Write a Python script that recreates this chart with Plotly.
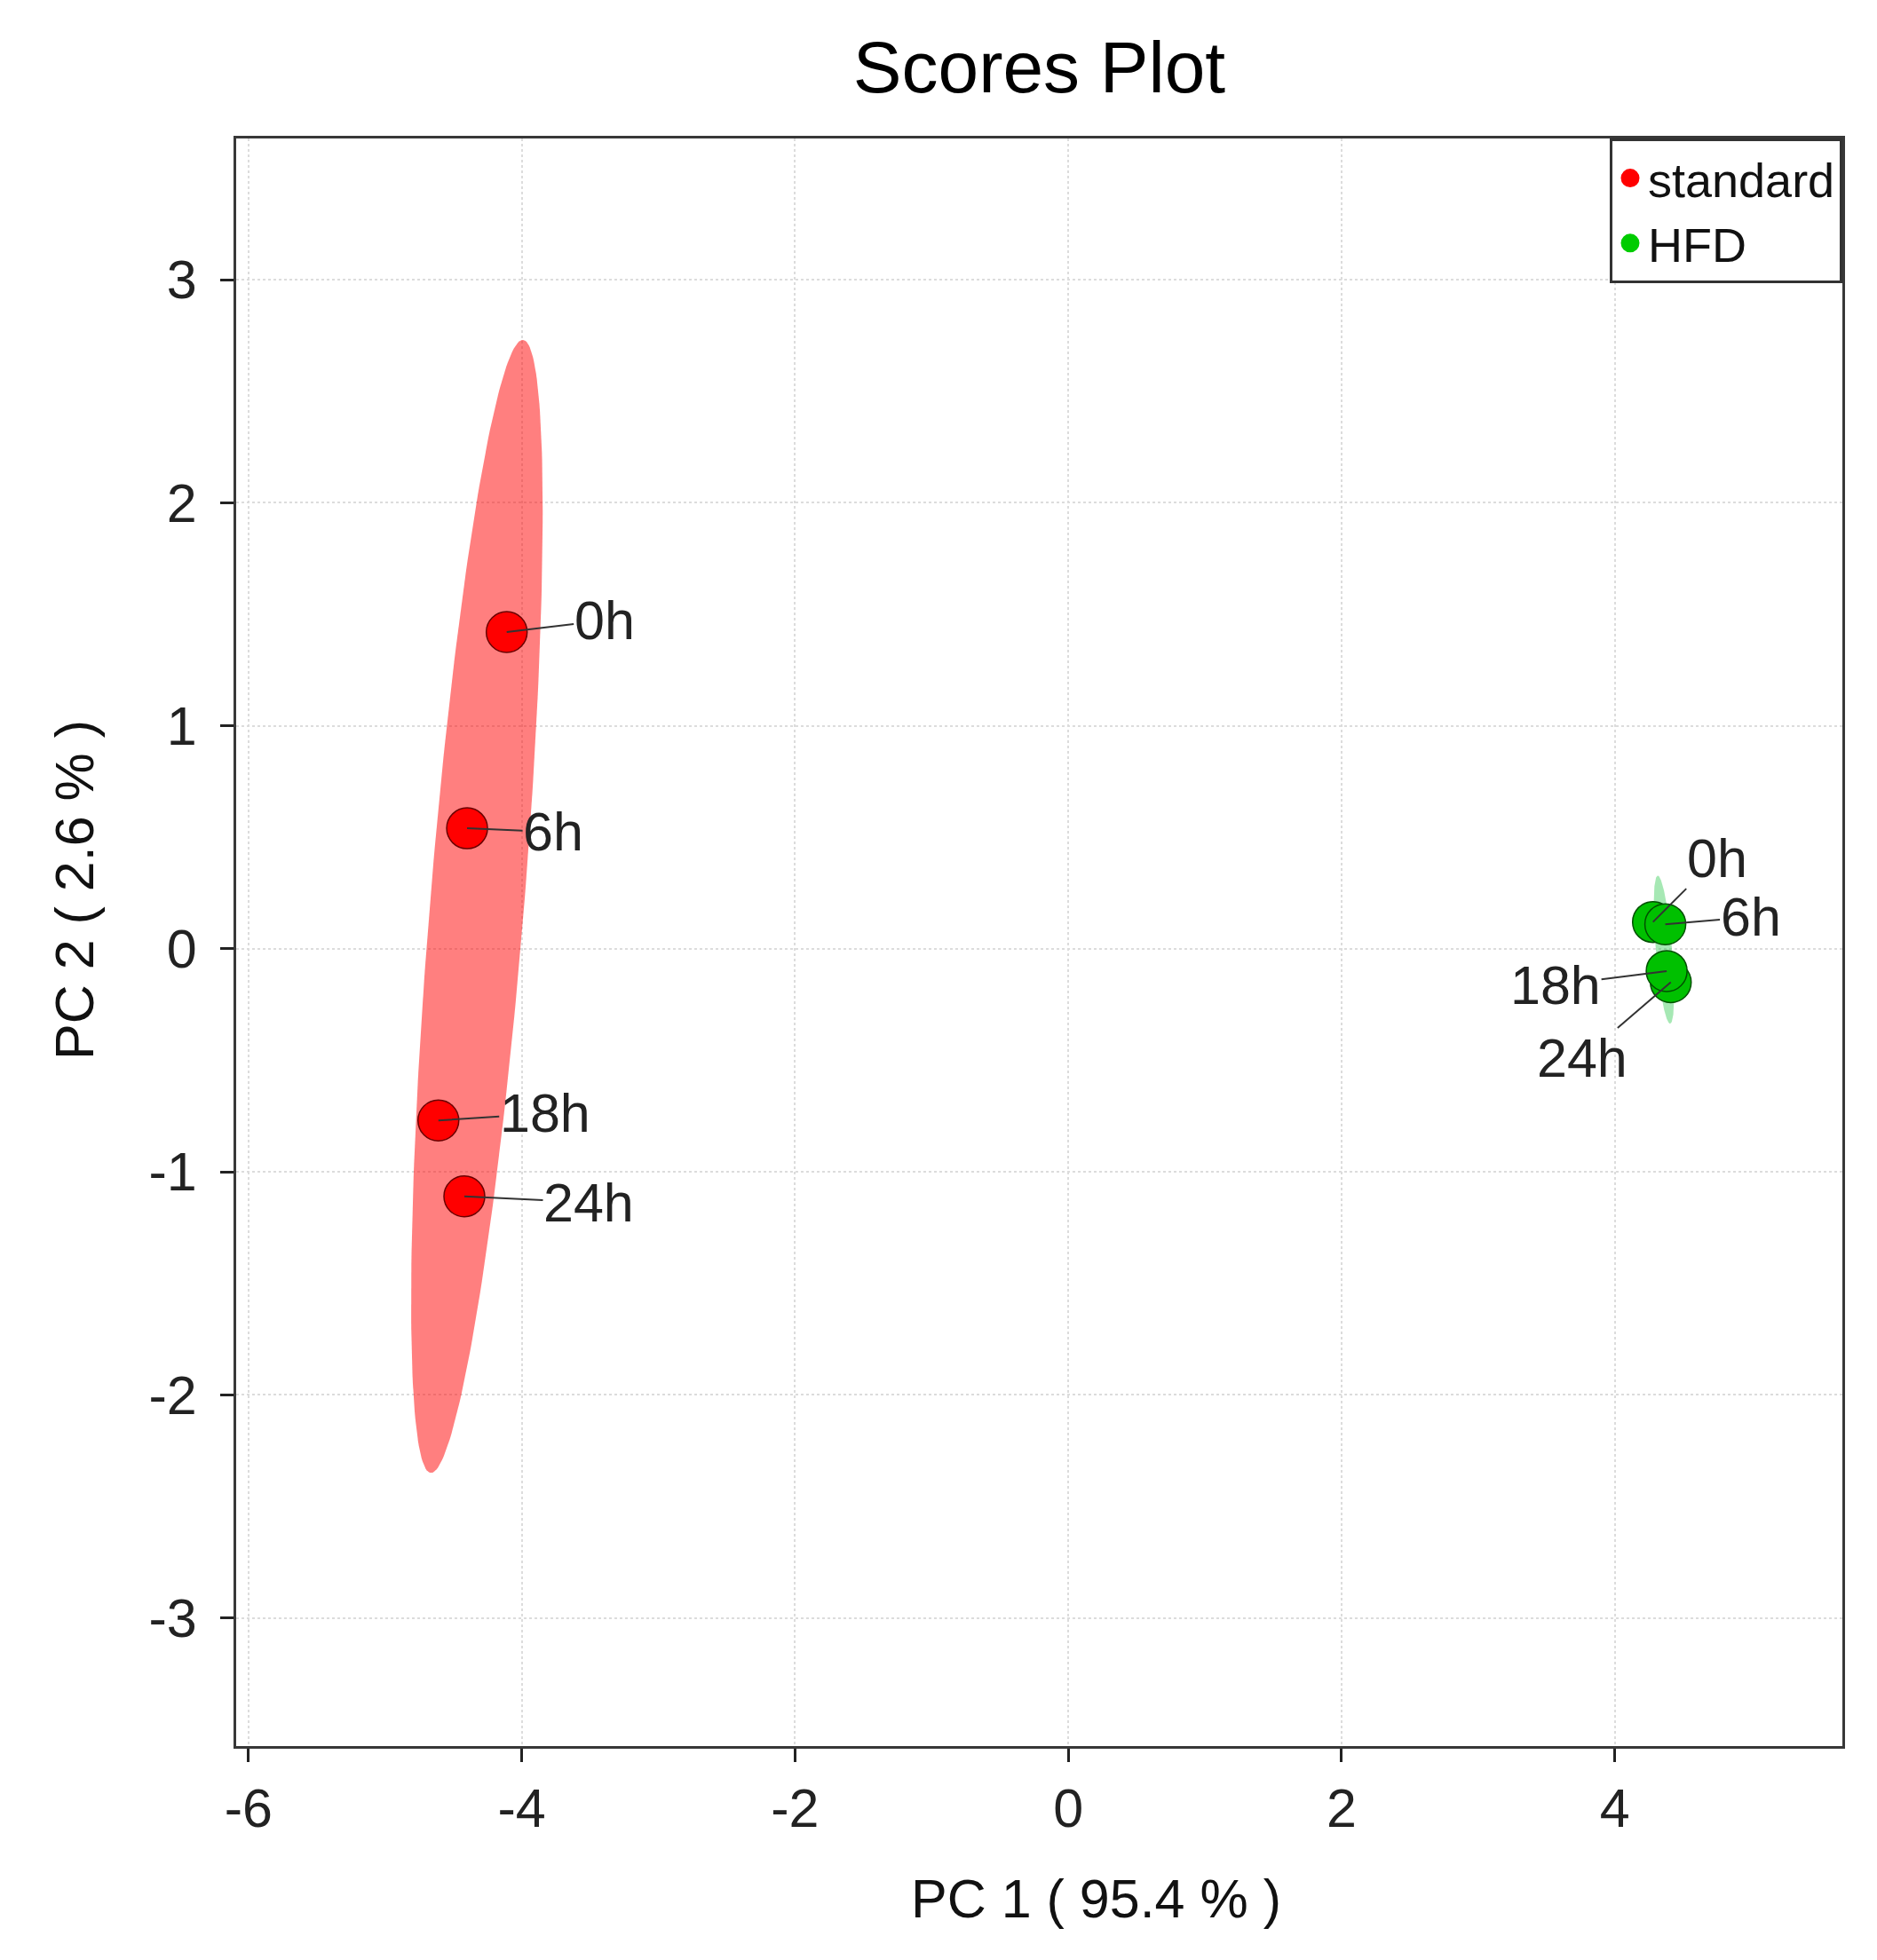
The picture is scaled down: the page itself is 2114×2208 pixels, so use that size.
import numpy as np
import plotly.graph_objects as go

# PCA scores
labels = ['0h', '6h', '18h', '24h']
std_pc1 = [-4.11, -4.40, -4.61, -4.42]
std_pc2 = [1.42, 0.54, -0.77, -1.11]

hfd_labels = ['0h', '6h', '24h', '18h']   # 18h sits on top of 24h
hfd_pc1 = [4.28, 4.37, 4.41, 4.38]
hfd_pc2 = [0.12, 0.11, -0.15, -0.10]

# confidence ellipses: centre, half major axis vector, half minor axis vector (data units)
std_ell_centre = [-4.328, 0.19]
std_ell_major = [0.338, 2.54]
std_ell_minor = [0.343, -0.017]
hfd_ell_centre = [4.36, -0.004]
hfd_ell_major = [-0.045, 0.332]
hfd_ell_minor = [0.06, 0.0]

x_ticks = [-6, -4, -2, 0, 2, 4]
x_tick_text = ['-6', '-4', '-2', '0', '2', '4']
y_ticks = [-3, -2, -1, 0, 1, 2, 3]
y_tick_text = ['-3', '-2', '-1', '0', '1', '2', '3']

FONT = 'Liberation Sans, Arial, sans-serif'

# plot area in pixels (figure is 2114 x 2208)
L, R, T, B = 258, 2067, 148, 1959


def ellipse(centre, major, minor, n=240):
    t = np.linspace(0, 2 * np.pi, n)
    x = centre[0] + major[0] * np.cos(t) + minor[0] * np.sin(t)
    y = centre[1] + major[1] * np.cos(t) + minor[1] * np.sin(t)
    return x, y


fig = go.Figure()

ex, ey = ellipse(std_ell_centre, std_ell_major, std_ell_minor)
fig.add_trace(go.Scatter(x=ex, y=ey, mode='lines', fill='toself',
                         fillcolor='rgba(255,0,0,0.5)', line=dict(width=0),
                         hoverinfo='skip', showlegend=False))
ex, ey = ellipse(hfd_ell_centre, hfd_ell_major, hfd_ell_minor)
fig.add_trace(go.Scatter(x=ex, y=ey, mode='lines', fill='toself',
                         fillcolor='rgba(0,190,40,0.35)', line=dict(width=0),
                         hoverinfo='skip', showlegend=False))

fig.add_trace(go.Scatter(x=std_pc1, y=std_pc2, mode='markers', text=labels,
                         marker=dict(size=46, color='#ff0000',
                                     line=dict(color='#6a0000', width=1.5)),
                         showlegend=False))
fig.add_trace(go.Scatter(x=hfd_pc1, y=hfd_pc2, mode='markers', text=hfd_labels,
                         marker=dict(size=46, color='#00c000',
                                     line=dict(color='#005000', width=1.5)),
                         showlegend=False))

# legend-only entries (plain dots)
fig.add_trace(go.Scatter(x=[None], y=[None], mode='markers', name='standard',
                         marker=dict(size=16, color='#ff0000',
                                     line=dict(color='#ff0000', width=5))))
fig.add_trace(go.Scatter(x=[None], y=[None], mode='markers', name='HFD',
                         marker=dict(size=16, color='#00cc00',
                                     line=dict(color='#00cc00', width=5))))

# sample labels with leader lines (pixel offsets of the text)
std_offsets = [(110, -13), (97, 4), (120, -8), (140, 7)]
hfd_offsets = [(72, -72), (96, -8), (-100, 86), (-125, 16)]

annotations = []
for xs, ys, labs, offs in [(std_pc1, std_pc2, labels, std_offsets),
                           (hfd_pc1, hfd_pc2, hfd_labels, hfd_offsets)]:
    for x, y, lab, (ox, oy) in zip(xs, ys, labs, offs):
        annotations.append(dict(x=x, y=y, xref='x', yref='y', text=lab,
                                showarrow=True, arrowhead=0, arrowwidth=2,
                                arrowcolor='#333333', standoff=0,
                                ax=ox, ay=oy, borderpad=0,
                                font=dict(family=FONT, size=61, color='#222222')))

# axis titles (placed in plot-area paper coordinates)
annotations.append(dict(x=(1226 - L) / (R - L), y=(B - 2131) / (B - T),
                        xref='paper', yref='paper',
                        text='PC 1 ( 95.4 % )', showarrow=False,
                        xanchor='center', yanchor='middle',
                        font=dict(family=FONT, size=61, color='#111111')))
annotations.append(dict(x=(76 - L) / (R - L), y=(B - 995) / (B - T),
                        xref='paper', yref='paper',
                        text='PC 2 ( 2.6 % )', showarrow=False, textangle=-90,
                        xanchor='center', yanchor='middle',
                        font=dict(family=FONT, size=61, color='#111111')))

axis_common = dict(showline=True, mirror=True, linecolor='#383838', linewidth=3,
                   ticks='outside', ticklen=15, tickwidth=3, tickcolor='#222222',
                   showgrid=True, gridcolor='#dcdcdc', griddash='dot', gridwidth=2,
                   zeroline=False,
                   tickfont=dict(family=FONT, size=61, color='#222222'))

fig.update_xaxes(range=[-6.09, 5.666], tickvals=x_ticks, ticktext=x_tick_text,
                 ticklabelstandoff=0, **axis_common)
fig.update_yaxes(range=[-3.575, 3.633], tickvals=y_ticks, ticktext=y_tick_text,
                 ticklabelstandoff=14, **axis_common)

fig.update_layout(
    width=2114, height=2208,
    margin=dict(l=L, r=2114 - R, t=T, b=2208 - B),
    paper_bgcolor='white', plot_bgcolor='white',
    title=dict(text='Scores Plot', x=0.5, xref='paper', xanchor='center',
               y=1 - 67 / 2208, yanchor='middle',
               font=dict(family=FONT, size=82, color='#000000')),
    legend=dict(x=1, y=1, xanchor='right', yanchor='top',
                bordercolor='#333333', borderwidth=3, bgcolor='white',
                font=dict(family=FONT, size=54, color='#111111'),
                tracegroupgap=0),
    annotations=annotations,
)

fig.write_html("out.html")
